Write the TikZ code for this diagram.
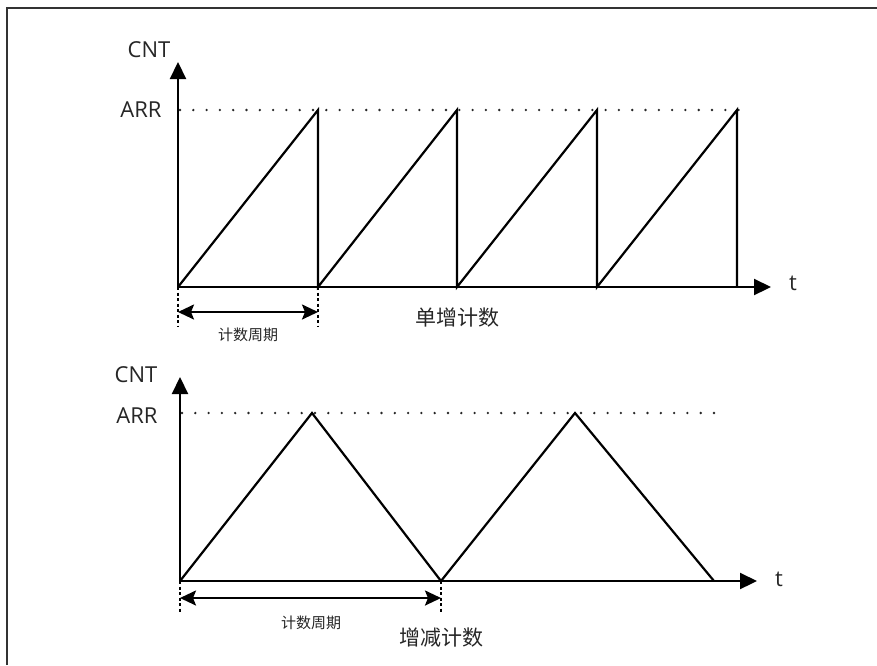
\documentclass[tikz,border=0pt]{standalone}
\usepackage{fontspec}
\setmainfont{Open Sans}
\newfontfamily\cjk{Noto Sans CJK SC}
\usetikzlibrary{arrows.meta}
\begin{document}
\begin{tikzpicture}[x=1pt,y=-1pt,
  axis/.style={line width=2.2pt,-{Triangle[length=17pt,width=16pt]}},
  wave/.style={line width=2.2pt,line join=miter},
  dotline/.style={line width=2.6pt,line cap=round,dash pattern=on 0pt off 13.3pt,black!85},
  dashv/.style={line width=2pt,dash pattern=on 3pt off 2.5pt},
  period/.style={line width=2.2pt,{Stealth[length=16pt,width=15pt,inset=3pt]}-{Stealth[length=16pt,width=15pt,inset=3pt]}},
  lbl/.style={font=\fontsize{22}{26}\selectfont,inner sep=0pt,text=black!85},
  small/.style={font=\cjk\fontsize{15}{18}\selectfont,inner sep=0pt,text=black!85},
  big/.style={font=\cjk\fontsize{21}{25}\selectfont,inner sep=0pt,text=black!85}]
\useasboundingbox (0,0) rectangle (877,665);
\fill[white] (0,0) rectangle (877,665);
% frame
\draw[line width=2.5pt,black!80] (7,665) -- (7,8) -- (877,8);

% ---------- top chart ----------
\coordinate (o1) at (178,287);
\coordinate (ytop1) at (178,62);
\coordinate (xend1) at (771,287);
\coordinate (a1) at (318,110);
\coordinate (a2) at (457,110);
\coordinate (a3) at (597,110);
\coordinate (a4) at (737,110);
\coordinate (b1) at (318,287);
\coordinate (b2) at (457,287);
\coordinate (b3) at (597,287);
\coordinate (b4) at (737,287);
\coordinate (d1s) at (180,110);
\coordinate (d1e) at (748,110);

\draw[dotline] (d1s) -- (d1e);
\draw[wave] (o1) -- (a1) -- (b1) -- (a2) -- (b2) -- (a3) -- (b3) -- (a4) -- (b4);
\draw[axis] (o1) -- (ytop1);
\draw[axis] (o1) -- (xend1);

\node[lbl] (cnt1) at (149,50) {CNT};
\node[lbl] (arr1) at (141,110) {ARR};
\node[lbl] (t1) at (793,283) {t};

\coordinate (v1b) at (178,326);
\coordinate (v2b) at (318,326);
\draw[dashv] (o1) -- (v1b);
\draw[dashv] (b1) -- (v2b);
\coordinate (p1l) at (178,312);
\coordinate (p1r) at (318,312);
\draw[period] (p1l) -- (p1r);
\node[small] (per1) at (248,335) {计数周期};
\node[big] (mode1) at (457,318) {单增计数};

% ---------- bottom chart ----------
\coordinate (o2) at (180,581);
\coordinate (ytop2) at (180,377);
\coordinate (xend2) at (757,581);
\coordinate (c1) at (312,413);
\coordinate (c2) at (441,581);
\coordinate (c3) at (575,413);
\coordinate (c4) at (714,581);
\coordinate (d2s) at (182,413);
\coordinate (d2e) at (722,413);

\draw[dotline] (d2s) -- (d2e);
\draw[wave] (o2) -- (c1) -- (c2) -- (c3) -- (c4);
\draw[axis] (o2) -- (ytop2);
\draw[axis] (o2) -- (xend2);

\node[lbl] (cnt2) at (136,375) {CNT};
\node[lbl] (arr2) at (137,416) {ARR};
\node[lbl] (t2) at (779,579) {t};

\coordinate (w1b) at (180,613);
\coordinate (w2b) at (441,613);
\draw[dashv] (o2) -- (w1b);
\draw[dashv] (c2) -- (w2b);
\coordinate (p2l) at (180,598);
\coordinate (p2r) at (441,598);
\draw[period] (p2l) -- (p2r);
\node[small] (per2) at (311,623) {计数周期};
\node[big] (mode2) at (441,638) {增减计数};
\end{tikzpicture}
\end{document}
